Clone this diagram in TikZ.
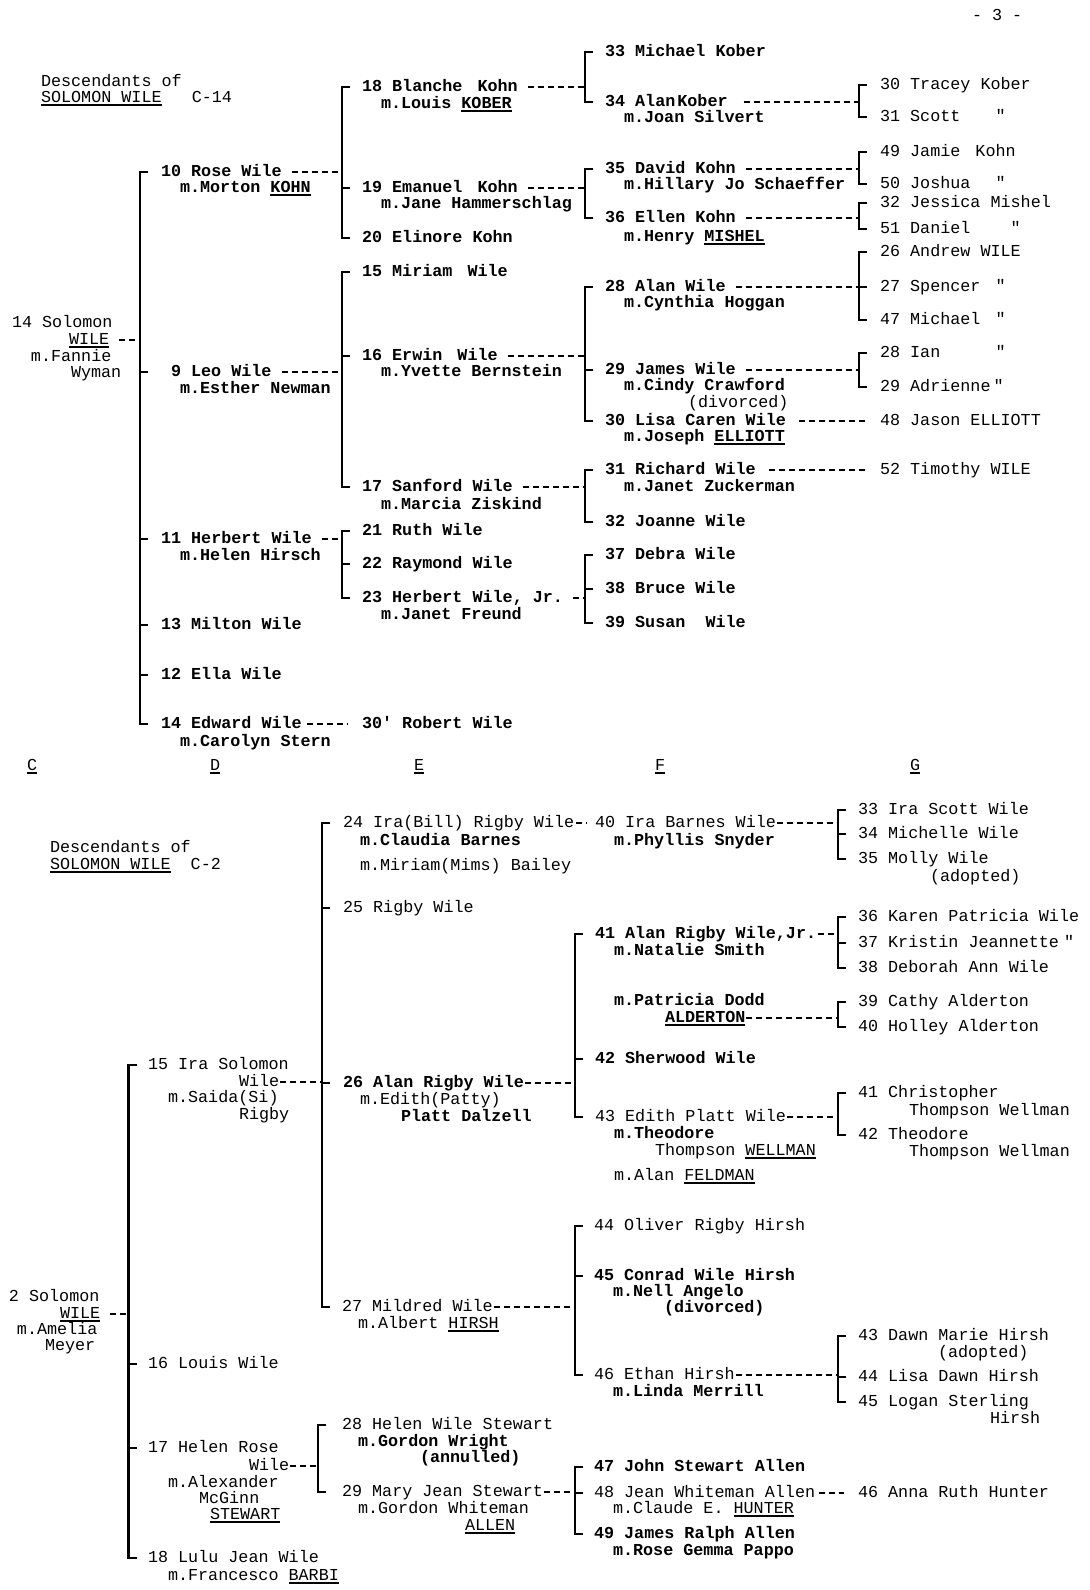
\documentclass[tikz,border=0pt]{standalone}
\usepackage{fontspec}
\newfontfamily\twr{Liberation Mono}
\newcommand\twf{\twr\fontsize{8.375}{10}\selectfont}
\newcommand\twfb{\twr\bfseries\fontsize{8.375}{10}\selectfont}
\newlength\cw \setlength\cw{5.025pt}
\newcommand\gap[1]{\hspace*{#1\cw}}
\newcommand\ulm[1]{\setbox0=\hbox{#1}\rlap{\rule[-1.7pt]{\wd0}{0.75pt}}\box0}
\newcommand\brkt[4][br]{\draw[#1] (#3.mid west -| #2) +(8,0) -- (#3.mid west -| #2) -- (#4.mid west -| #2) -- +(8,0);}
\newcommand\brtick[3][br]{\draw[#1] (#3.mid west -| #2) -- +(8,0);}
\newcommand\linkto[4][cn]{\draw[#1] (#2.mid east) ++(#4,0) -- (#2.mid east -| #3);}
\begin{document}
\begin{tikzpicture}[x=0.5pt,y=-0.5pt,
  t/.style={font=\twf, inner sep=0pt, outer sep=0pt, anchor=mid west},
  tb/.style={t, font=\twfb},
  br/.style={line width=1.1pt},
  brs/.style={line width=0.8pt},
  cn/.style={line width=0.8pt, dash pattern=on 3pt off 2pt},
  cns/.style={line width=0.6pt, dash pattern=on 3pt off 2pt}]
\fill[white] (0,0) rectangle (1090,1590);
\useasboundingbox (0,0) rectangle (1090,1590);
% bracket columns
\coordinate (xC) at (140,0);
\coordinate (xE) at (342,0);
\coordinate (xF) at (585,0);
\coordinate (xG) at (859,0);
\coordinate (xB) at (128.5,0);
\coordinate (xBI) at (322,0);
\coordinate (xBH) at (318,0);
\coordinate (xBF) at (575,0);
\coordinate (xBG) at (838,0);
% ================= TOP =================
\node[t] (pg) at (972,16) {- 3 -};
\node[t] (h1) at (41,82) {Descendants of};
\node[t] (h2) at (41,98) {\ulm{SOLOMON WILE}\gap{3}C-14};
\node[t] (s1) at (12,323) {14 Solomon};
\node[t] (s2) at (69,340) {\ulm{WILE}};
\node[t] (s3) at (31,357) {m.Fannie};
\node[t] (s4) at (71,373) {Wyman};
% column D
\node[tb] (p10) at (161,172) {10 Rose Wile};
\node[tb] (p10m) at (180,188) {m.Morton \ulm{KOHN}};
\node[tb] (p9) at (171,372) {9 Leo Wile};
\node[tb] (p9m) at (180,389) {m.Esther Newman};
\node[tb] (p11) at (161,539) {11 Herbert Wile};
\node[tb] (p11m) at (180,556) {m.Helen Hirsch};
\node[tb] (p13) at (161,625) {13 Milton Wile};
\node[tb] (p12) at (161,675) {12 Ella Wile};
\node[tb] (p14) at (161,724) {14 Edward Wile};
\node[tb] (p14m) at (180,742) {m.Carolyn Stern};
% column E
\node[tb] (p18) at (362,87) {18 Blanche\gap{1.5}Kohn};
\node[tb] (p18m) at (381,104) {m.Louis \ulm{KOBER}};
\node[tb] (p19) at (362,188) {19 Emanuel\gap{1.5}Kohn};
\node[tb] (p19m) at (381,204) {m.Jane Hammerschlag};
\node[tb] (p20) at (362,238) {20 Elinore Kohn};
\node[tb] (p15) at (362,272) {15 Miriam\gap{1.5}Wile};
\node[tb] (p16) at (362,356) {16 Erwin\gap{1.5}Wile};
\node[tb] (p16m) at (381,372) {m.Yvette Bernstein};
\node[tb] (p17) at (362,487) {17 Sanford Wile};
\node[tb] (p17m) at (381,505) {m.Marcia Ziskind};
\node[tb] (p21) at (362,531) {21 Ruth Wile};
\node[tb] (p22) at (362,564) {22 Raymond Wile};
\node[tb] (p23) at (362,598) {23 Herbert Wile, Jr.};
\node[tb] (p23m) at (381,615) {m.Janet Freund};
\node[tb] (p30r) at (362,724) {30' Robert Wile};
% column F
\node[tb] (p33) at (605,52) {33 Michael Kober};
\node[tb] (p34) at (605,102) {34 Alan\hspace{1pt}Kober};
\node[tb] (p34m) at (624,118) {m.Joan Silvert};
\node[tb] (p35) at (605,169) {35 David Kohn};
\node[tb] (p35m) at (624,185) {m.Hillary Jo Schaeffer};
\node[tb] (p36) at (605,218) {36 Ellen Kohn};
\node[tb] (p36m) at (624,237) {m.Henry \ulm{MISHEL}};
\node[tb] (p28) at (605,287) {28 Alan Wile};
\node[tb] (p28m) at (624,303) {m.Cynthia Hoggan};
\node[tb] (p29) at (605,370) {29 James Wile};
\node[tb] (p29m) at (624,386) {m.Cindy Crawford};
\node[t] (p29d) at (688,403) {(divorced)};
\node[tb] (p30) at (605,421) {30 Lisa Caren Wile};
\node[tb] (p30m) at (624,437) {m.Joseph \ulm{ELLIOTT}};
\node[tb] (p31) at (605,470) {31 Richard Wile};
\node[tb] (p31m) at (624,487) {m.Janet Zuckerman};
\node[tb] (p32) at (605,522) {32 Joanne Wile};
\node[tb] (p37) at (605,555) {37 Debra Wile};
\node[tb] (p38) at (605,589) {38 Bruce Wile};
\node[tb] (p39) at (605,623) {39 Susan\gap{2}Wile};
% column G
\node[t] (g30) at (880,85) {30 Tracey Kober};
\node[t] (g31) at (880,117) {31 Scott\gap{3.5}"};
\node[t] (g49) at (880,152) {49 Jamie\gap{1.5}Kohn};
\node[t] (g50) at (880,184) {50 Joshua\gap{2.5}"};
\node[t] (g32) at (880,203) {32 Jessica Mishel};
\node[t] (g51) at (880,229) {51 Daniel\gap{4}"};
\node[t] (g26) at (880,252) {26 Andrew WILE};
\node[t] (g27) at (880,287) {27 Spencer\gap{1.5}"};
\node[t] (g47) at (880,320) {47 Michael\gap{1.5}"};
\node[t] (g28) at (880,353) {28 Ian\gap{5.5}"};
\node[t] (g29) at (880,387) {29 Adrienne\gap{0.3}"};
\node[t] (g48) at (880,421) {48 Jason ELLIOTT};
\node[t] (g52) at (880,470) {52 Timothy WILE};
% column labels
\node[t] (lC) at (27,766) {\ulm{C}};
\node[t] (lD) at (210,766) {\ulm{D}};
\node[t] (lE) at (414,766) {\ulm{E}};
\node[t] (lF) at (655,766) {\ulm{F}};
\node[t] (lG) at (910,766) {\ulm{G}};
% top brackets and connectors
\brkt{xC}{p10}{p14}
\brtick{xC}{p9}\brtick{xC}{p11}\brtick{xC}{p13}\brtick{xC}{p12}
\linkto{s2}{xC}{10}
\brkt{xE}{p18}{p20}\brtick{xE}{p19}
\linkto{p10}{xE}{10}
\brkt{xE}{p15}{p17}\brtick{xE}{p16}
\linkto{p9}{xE}{10}
\brkt{xE}{p21}{p23}\brtick{xE}{p22}
\linkto{p11}{xE}{10}
\brkt{xF}{p33}{p34}
\linkto{p18}{xF}{10}
\brkt{xF}{p35}{p36}
\linkto{p19}{xF}{10}
\brkt{xF}{p28}{p30}\brtick{xF}{p29}
\linkto{p16}{xF}{10}
\brkt{xF}{p31}{p32}
\linkto{p17}{xF}{10}
\brkt{xF}{p37}{p39}\brtick{xF}{p38}
\linkto{p23}{xF}{10}
\brkt{xG}{g30}{g31}
\linkto{p34}{xG}{16}
\brkt{xG}{g49}{g50}
\linkto{p35}{xG}{10}
\brkt{xG}{g32}{g51}
\linkto{p36}{xG}{10}
\brkt{xG}{g26}{g47}\brtick{xG}{g27}
\linkto{p28}{xG}{10}
\brkt{xG}{g28}{g29}
\linkto{p29}{xG}{10}
\draw[cn, shorten <=6.5pt, shorten >=6pt] (p30.mid east) -- (g48.mid west);
\draw[cn, shorten <=6.4pt, shorten >=6.3pt] (p31.mid east) -- (g52.mid west);
\draw[cn, shorten <=2.5pt, shorten >=7pt] (p14.mid east) -- (p30r.mid west);
% ================= BOTTOM =================
\node[t] (h3) at (50,848) {Descendants of};
\node[t] (h4) at (50,865) {\ulm{SOLOMON WILE}\gap{2}C-2};
\node[t] (t1) at (9,1297) {2 Solomon};
\node[t] (t2) at (60,1314) {\ulm{WILE}};
\node[t] (t3) at (17,1330) {m.Amelia};
\node[t] (t4) at (45,1346) {Meyer};
% column D
\node[t] (q15) at (148,1065) {15 Ira Solomon};
\node[t] (q15w) at (239,1082) {Wile};
\node[t] (q15m) at (168,1098) {m.Saida(Si)};
\node[t] (q15r) at (239,1115) {Rigby};
\node[t] (q16) at (148,1364) {16 Louis Wile};
\node[t] (q17) at (148,1448) {17 Helen Rose};
\node[t] (q17w) at (249,1466) {Wile};
\node[t] (q17m) at (168,1483) {m.Alexander};
\node[t] (q17g) at (199,1499) {McGinn};
\node[t] (q17s) at (210,1515) {\ulm{STEWART}};
\node[t] (q18) at (148,1558) {18 Lulu Jean Wile};
\node[t] (q18m) at (168,1576) {m.Francesco \ulm{BARBI}};
% column E
\node[t] (q24) at (343,823) {24 Ira(Bill) Rigby Wile};
\node[tb] (q24m) at (360,841) {m.Claudia Barnes};
\node[t] (q24n) at (360,866) {m.Miriam(Mims) Bailey};
\node[t] (q25) at (343,908) {25 Rigby Wile};
\node[tb] (q26) at (343,1083) {26 Alan Rigby Wile};
\node[t] (q26m) at (360,1100) {m.Edith(Patty)};
\node[tb] (q26p) at (401,1117) {Platt Dalzell};
\node[t] (q27) at (342,1307) {27 Mildred Wile};
\node[t] (q27m) at (358,1324) {m.Albert \ulm{HIRSH}};
\node[t] (q28) at (342,1425) {28 Helen Wile Stewart};
\node[tb] (q28m) at (358,1442) {m.Gordon Wright};
\node[tb] (q28a) at (420,1458) {(annulled)};
\node[t] (q29) at (342,1492) {29 Mary Jean Stewart};
\node[t] (q29m) at (358,1509) {m.Gordon Whiteman};
\node[t] (q29a) at (465,1526) {\ulm{ALLEN}};
% column F
\node[t] (q40) at (595,823) {40 Ira Barnes Wile};
\node[tb] (q40m) at (614,841) {m.Phyllis Snyder};
\node[tb] (q41) at (595,934) {41 Alan Rigby Wile,Jr.};
\node[tb] (q41m) at (614,951) {m.Natalie Smith};
\node[tb] (q41p) at (614,1001) {m.Patricia Dodd};
\node[tb] (qAld) at (665,1018) {\ulm{ALDERTON}};
\node[tb] (q42) at (595,1059) {42 Sherwood Wile};
\node[t] (q43) at (595,1117) {43 Edith Platt Wile};
\node[tb] (q43m) at (614,1134) {m.Theodore};
\node[t] (q43t) at (655,1151) {Thompson \ulm{WELLMAN}};
\node[t] (q43f) at (614,1176) {m.Alan \ulm{FELDMAN}};
\node[t] (q44) at (594,1226) {44 Oliver Rigby Hirsh};
\node[tb] (q45) at (594,1276) {45 Conrad Wile Hirsh};
\node[tb] (q45m) at (613,1292) {m.Nell Angelo};
\node[tb] (q45d) at (664,1308) {(divorced)};
\node[t] (q46) at (594,1375) {46 Ethan Hirsh};
\node[tb] (q46m) at (613,1392) {m.Linda Merrill};
\node[tb] (q47) at (594,1467) {47 John Stewart Allen};
\node[t] (q48) at (594,1493) {48 Jean Whiteman Allen};
\node[t] (q48m) at (613,1509) {m.Claude E. \ulm{HUNTER}};
\node[tb] (q49) at (594,1534) {49 James Ralph Allen};
\node[tb] (q49m) at (613,1551) {m.Rose Gemma Pappo};
% column G
\node[t] (r33) at (858,810) {33 Ira Scott Wile};
\node[t] (r34) at (858,834) {34 Michelle Wile};
\node[t] (r35) at (858,859) {35 Molly Wile};
\node[t] (r35a) at (930,877) {(adopted)};
\node[t] (r36) at (858,917) {36 Karen Patricia Wile};
\node[t] (r37) at (858,943) {37 Kristin Jeannette\gap{0.5}"};
\node[t] (r38) at (858,968) {38 Deborah Ann Wile};
\node[t] (r39) at (858,1002) {39 Cathy Alderton};
\node[t] (r40) at (858,1027) {40 Holley Alderton};
\node[t] (r41) at (858,1093) {41 Christopher};
\node[t] (r41t) at (909,1111) {Thompson Wellman};
\node[t] (r42) at (858,1135) {42 Theodore};
\node[t] (r42t) at (909,1152) {Thompson Wellman};
\node[t] (r43) at (858,1336) {43 Dawn Marie Hirsh};
\node[t] (r43a) at (938,1353) {(adopted)};
\node[t] (r44) at (858,1377) {44 Lisa Dawn Hirsh};
\node[t] (r45) at (858,1402) {45 Logan Sterling};
\node[t] (r45h) at (990,1419) {Hirsh};
\node[t] (r46) at (858,1493) {46 Anna Ruth Hunter};
% bottom brackets and connectors
\brkt{xB}{q15}{q18}\brtick{xB}{q16}\brtick{xB}{q17}
\linkto[cns]{t2}{xB}{10}
\brkt{xBI}{q24}{q27}\brtick{xBI}{q25}\brtick{xBI}{q26}
\linkto[cns]{q15w}{xBI}{1}
\brkt{xBH}{q28}{q29}
\linkto[cns]{q17w}{xBH}{1}
\brkt[brs]{xBF}{q41}{q43}\brtick[brs]{xBF}{q42}
\linkto[cns]{q26}{xBF}{1}
\brkt[brs]{xBF}{q44}{q46}\brtick[brs]{xBF}{q45}
\linkto[cns]{q27}{xBF}{1}
\brkt[brs]{xBF}{q47}{q49}\brtick[brs]{xBF}{q48}
\linkto[cns]{q29}{xBF}{1}
\brkt[brs]{xBG}{r33}{r35}\brtick[brs]{xBG}{r34}
\linkto[cns]{q40}{xBG}{1}
\brkt[brs]{xBG}{r36}{r38}\brtick[brs]{xBG}{r37}
\linkto[cns]{q41}{xBG}{2}
\brkt[brs]{xBG}{r39}{r40}
\linkto[cns]{qAld}{xBG}{1}
\brkt[brs]{xBG}{r41}{r42}
\linkto[cns]{q43}{xBG}{1}
\brkt[brs]{xBG}{r43}{r45}\brtick[brs]{xBG}{r44}
\linkto[cns]{q46}{xBG}{1}
\draw[cns, shorten <=1pt, shorten >=4pt] (q24.mid east) -- (q40.mid west);
\draw[cns, shorten <=1.8pt, shorten >=7pt] (q48.mid east) -- (r46.mid west);
\end{tikzpicture}
\end{document}
